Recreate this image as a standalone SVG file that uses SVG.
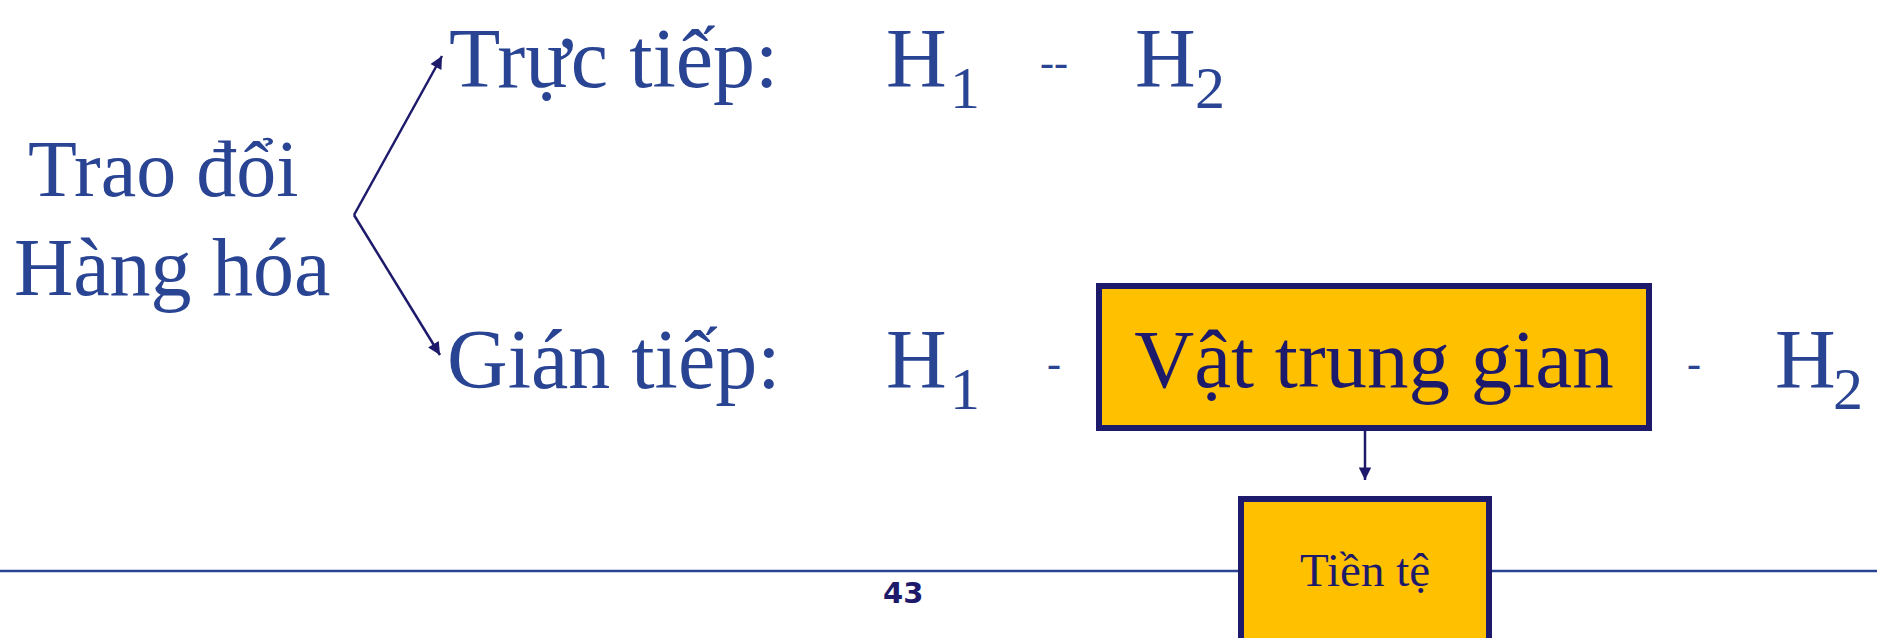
<svg xmlns="http://www.w3.org/2000/svg" width="1877" height="638" viewBox="0 0 1877 638">
<style>
.t{font-family:"Liberation Serif","Times New Roman",serif;fill:#2A4494;}
.big{font-size:84px;}
.sub{font-size:60px;}
.dash{font-size:42px;}
.dark{fill:#1D1A6B;}
.box{fill:#FFC000;stroke:#1D1A6B;stroke-width:6;}
.con{stroke:#1D1A6B;stroke-width:2.5;fill:none;}
</style>
<defs>
<marker id="ah" viewBox="0 0 10 10" refX="10" refY="5" markerWidth="6" markerHeight="5" orient="auto" markerUnits="strokeWidth">
<path d="M0,0 L10,5 L0,10 z" fill="#1D1A6B"/>
</marker>
</defs>
<rect width="1877" height="638" fill="#fff"/>
<line x1="0" y1="571" x2="1877" y2="571" stroke="#2A4494" stroke-width="2.5"/>
<g id="connectors">
<line class="con" x1="354" y1="215" x2="442" y2="56" marker-end="url(#ah)"/>
<line class="con" x1="354" y1="215" x2="440" y2="355" marker-end="url(#ah)"/>
<line class="con" x1="1365" y1="431" x2="1365" y2="480" marker-end="url(#ah)"/>
</g>
<g id="root">
<text class="t" x="28" y="196" font-size="80">Trao đổi</text>
<text class="t" x="14" y="295" font-size="82">Hàng hóa</text>
</g>
<g id="truc-tiep">
<text class="t big" x="449" y="87">Trực tiếp:</text>
<text class="t big" x="886" y="87">H</text>
<text class="t sub" x="950" y="108">1</text>
<text class="t dash" x="1040" y="76">--</text>
<text class="t big" x="1135" y="87">H</text>
<text class="t sub" x="1195" y="108">2</text>
</g>
<g id="gian-tiep">
<text class="t big" x="447" y="388">Gián tiếp:</text>
<text class="t big" x="886" y="388">H</text>
<text class="t sub" x="950" y="409">1</text>
<text class="t dash" x="1047" y="377">-</text>
<text class="t dash" x="1687" y="377">-</text>
<text class="t big" x="1775" y="388">H</text>
<text class="t sub" x="1833" y="409">2</text>
</g>
<g id="vat-trung-gian">
<rect class="box" x="1099" y="286" width="550" height="142"/>
<text class="t dark" x="1374" y="387" font-size="83" text-anchor="middle">Vật trung gian</text>
</g>
<g id="tien-te">
<rect class="box" x="1241" y="499" width="248" height="150"/>
<text class="t dark" x="1365" y="586" font-size="47" text-anchor="middle">Tiền tệ</text>
</g>
<text x="883" y="603" font-family="DejaVu Sans,sans-serif" font-weight="bold" font-size="29" fill="#1D1A6B">43</text>
</svg>
